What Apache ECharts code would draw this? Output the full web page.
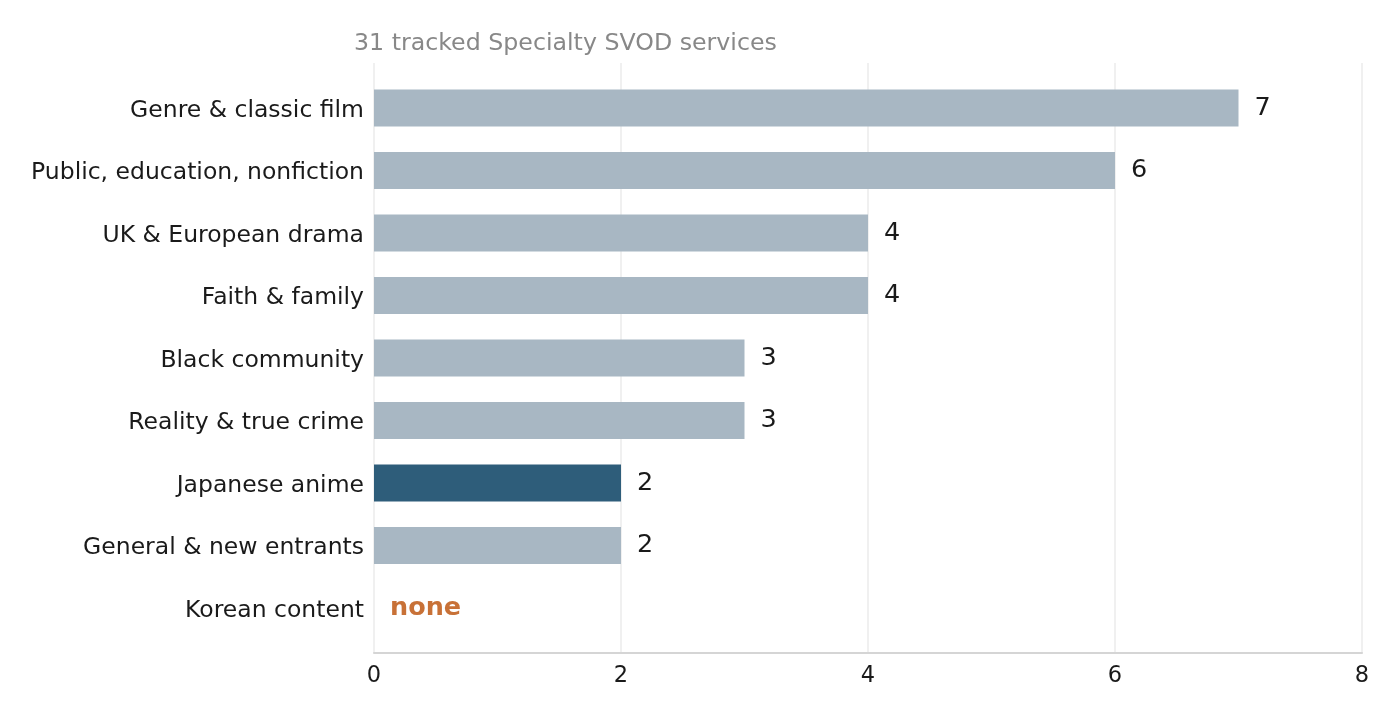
<!DOCTYPE html>
<html><head><meta charset="utf-8">
<script src="https://cdn.jsdelivr.net/npm/echarts@6/dist/echarts.min.js"></script>
<style>html,body{margin:0;padding:0;background:#fff}#c{width:1400px;height:720px}</style>
</head><body><div id="c"></div>
<script>
var categories = ["Genre & classic film","Public, education, nonfiction","UK & European drama","Faith & family","Black community","Reality & true crime","Japanese anime","General & new entrants","Korean content"];
var values = [7,6,4,4,3,3,2,2,0];
var highlight = "Japanese anime";
var xTicks = [0,2,4,6,8];
var titleText = "31 tracked Specialty SVOD services";

var FONT = "DejaVu Sans";
var chart = echarts.init(document.getElementById('c'));
var data = values.map(function(v,i){
  return {value:v, itemStyle:{color: categories[i]===highlight ? '#2e5d7a' : '#a8b7c3'}};
});
chart.setOption({
  animation:false,
  title:{text:titleText,left:349,top:27,textStyle:{fontFamily:FONT,fontSize:23.7,fontWeight:'normal',color:'#888'}},
  grid:[
    {left:374,right:38,top:63,height:590,containLabel:false},
    {left:374,right:38,top:76.75,height:562.5,containLabel:false}
  ],
  xAxis:[
    {gridIndex:0,type:'value',min:xTicks[0],max:xTicks[xTicks.length-1],interval:2,
     axisLine:{show:true,lineStyle:{color:'#d5d5d5',width:2}},axisTick:{show:false},
     axisLabel:{fontFamily:FONT,fontSize:22.5,color:'#1a1a1a',margin:12},
     splitLine:{show:true,lineStyle:{color:'#ebebeb',width:1.5}}},
    {gridIndex:1,type:'value',min:xTicks[0],max:xTicks[xTicks.length-1],show:false,splitLine:{show:false}}
  ],
  yAxis:[
    {gridIndex:0,type:'value',show:false,min:0,max:1,splitLine:{show:false}},
    {gridIndex:1,type:'category',data:categories,inverse:true,
     axisLine:{show:false},axisTick:{show:false},
     axisLabel:{fontFamily:FONT,fontSize:23.5,color:'#1a1a1a',margin:10,
       formatter:function(v){return '{a|' + v + '}';},
       rich:{a:{fontFamily:FONT,fontSize:23.5,color:'#1a1a1a',padding:[5,0,0,0]}}}}
  ],
  series:[{
    type:'bar',xAxisIndex:1,yAxisIndex:1,data:data,barWidth:37,
    label:{show:true,position:'right',distance:16,fontFamily:FONT,fontSize:25.5,color:'#1a1a1a',
      formatter:function(p){return p.value===0 ? '{n|none}' : String(p.value);},
      rich:{n:{fontFamily:FONT,fontSize:25.5,fontWeight:'bold',color:'#c87137'}}}
  }]
});
</script></body></html>
